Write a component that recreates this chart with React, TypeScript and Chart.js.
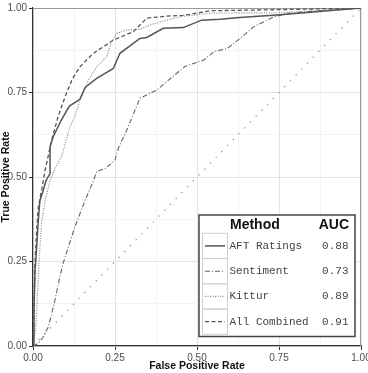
import React, { useEffect, useRef } from "react";
import { Chart, registerables } from "chart.js";

Chart.register(...registerables);

// ROC curves: [FPR, TPR]
const aftRatings: number[][] = [
  [0, 0], [0.003, 0.1], [0.006, 0.22], [0.011, 0.29], [0.016, 0.37], [0.021, 0.43], [0.031, 0.46],
  [0.04, 0.49], [0.052, 0.51], [0.052, 0.59], [0.062, 0.62], [0.087, 0.67], [0.111, 0.71],
  [0.143, 0.73], [0.159, 0.765], [0.194, 0.792], [0.245, 0.821], [0.265, 0.866], [0.326, 0.91],
  [0.347, 0.913], [0.397, 0.94], [0.458, 0.942], [0.514, 0.964], [0.57, 0.967], [0.63, 0.972],
  [0.755, 0.98], [1, 1],
];
const sentiment: number[][] = [
  [0, 0], [0.016, 0.008], [0.03, 0.025], [0.047, 0.057], [0.067, 0.136], [0.082, 0.205],
  [0.092, 0.245], [0.108, 0.294], [0.128, 0.353], [0.159, 0.432], [0.185, 0.49], [0.194, 0.516],
  [0.22, 0.525], [0.25, 0.55], [0.26, 0.585], [0.286, 0.639], [0.326, 0.733], [0.377, 0.757],
  [0.463, 0.827], [0.521, 0.846], [0.552, 0.871], [0.592, 0.88], [0.638, 0.915], [0.674, 0.945],
  [0.735, 0.974], [0.775, 0.984], [0.85, 0.99], [1, 1],
];
const kittur: number[][] = [
  [0, 0], [0.008, 0.05], [0.011, 0.1], [0.016, 0.2], [0.021, 0.29], [0.026, 0.364], [0.037, 0.43],
  [0.052, 0.49], [0.07, 0.53], [0.087, 0.56], [0.113, 0.649], [0.128, 0.68], [0.143, 0.728],
  [0.169, 0.787], [0.194, 0.826], [0.225, 0.856], [0.24, 0.9], [0.255, 0.925], [0.286, 0.935],
  [0.326, 0.937], [0.357, 0.95], [0.408, 0.964], [0.458, 0.976], [0.55, 0.985], [0.755, 0.986],
  [1, 1],
];
const allCombined: number[][] = [
  [0, 0], [0.003, 0.1], [0.006, 0.245], [0.011, 0.34], [0.016, 0.41], [0.026, 0.46], [0.037, 0.52],
  [0.057, 0.61], [0.077, 0.68], [0.098, 0.738], [0.12, 0.79], [0.143, 0.826], [0.184, 0.866],
  [0.245, 0.905], [0.306, 0.93], [0.347, 0.97], [0.408, 0.976], [0.458, 0.978], [0.542, 0.992],
  [0.75, 0.995], [1, 1],
];
const chanceLine: number[][] = [[0, 0], [1, 1]];

const methodNames = ["AFT Ratings", "Sentiment", "Kittur", "All Combined"];
const aucValues = ["0.88", "0.73", "0.89", "0.91"];
const tickValues = [0, 0.25, 0.5, 0.75, 1];

const lineStyles = [
  { color: "#555", width: 1.5, dash: [] as number[] },
  { color: "#666", width: 1.1, dash: [5, 2, 1, 2] },
  { color: "#888", width: 1.2, dash: [1, 1.5] },
  { color: "#555", width: 1.3, dash: [4, 2.5] },
];

const toXY = (arr: number[][]) => arr.map(([x, y]) => ({ x, y }));

const decorPlugin = {
  id: "decor",
  beforeDatasetsDraw(chart: any) {
    const { ctx, chartArea: a } = chart;
    ctx.save();
    ctx.strokeStyle = "#9a9a9a";
    ctx.lineWidth = 1;
    ctx.beginPath();
    ctx.moveTo(a.left, a.top + 0.5);
    ctx.lineTo(a.right - 0.5, a.top + 0.5);
    ctx.lineTo(a.right - 0.5, a.bottom);
    ctx.stroke();
    ctx.restore();
  },
  afterDraw(chart: any) {
    const { ctx, chartArea: a } = chart;
    ctx.save();
    ctx.fillStyle = "#111";
    ctx.font = "bold 10.5px 'Liberation Sans', Arial, sans-serif";
    ctx.textAlign = "center";
    ctx.textBaseline = "middle";
    ctx.fillText("False Positive Rate", (a.left + a.right) / 2, 366);
    ctx.translate(6, (a.top + a.bottom) / 2);
    ctx.rotate(-Math.PI / 2);
    ctx.fillText("True Positive Rate", 0, 0);
    ctx.restore();

    ctx.save();
    const L = 199, T = 215, R = 355, B = 336.5;
    ctx.fillStyle = "#fff";
    ctx.fillRect(L, T, R - L, B - T);
    ctx.strokeStyle = "#444";
    ctx.lineWidth = 1.5;
    ctx.strokeRect(L, T, R - L, B - T);
    ctx.fillStyle = "#111";
    ctx.font = "bold 14px 'Liberation Sans', Arial, sans-serif";
    ctx.textBaseline = "middle";
    ctx.textAlign = "left";
    ctx.fillText("Method", 230, 225.5);
    ctx.textAlign = "right";
    ctx.fillText("AUC", 349, 225.5);
    const rowTop = 233.3, rowH = 25.25;
    methodNames.forEach((name, i) => {
      const y0 = rowTop + i * rowH;
      const cy = y0 + rowH / 2;
      ctx.strokeStyle = "#d0d0d0";
      ctx.lineWidth = 1;
      ctx.setLineDash([]);
      ctx.strokeRect(202.5, y0, 25, rowH);
      const s = lineStyles[i];
      ctx.strokeStyle = s.color;
      ctx.lineWidth = s.width;
      ctx.setLineDash(s.dash);
      ctx.beginPath();
      ctx.moveTo(205, cy);
      ctx.lineTo(225, cy);
      ctx.stroke();
      ctx.setLineDash([]);
      ctx.fillStyle = "#444";
      ctx.font = "11px 'Liberation Mono', 'DejaVu Sans Mono', monospace";
      ctx.textAlign = "left";
      ctx.fillText(name, 229.5, cy);
      ctx.textAlign = "right";
      ctx.fillText(aucValues[i], 348.5, cy);
    });
    ctx.restore();
  },
};

export default function App() {
  const ref = useRef<HTMLCanvasElement>(null);
  useEffect(() => {
    if (!ref.current) return;
    const series = [aftRatings, sentiment, kittur, allCombined];
    const datasets: any[] = series.map((d, i) => ({
      label: methodNames[i],
      data: toXY(d),
      showLine: true,
      borderColor: lineStyles[i].color,
      borderWidth: lineStyles[i].width,
      borderDash: lineStyles[i].dash,
      pointRadius: 0,
      fill: false,
      tension: 0,
    }));
    datasets.push({
      label: "chance",
      data: toXY(chanceLine),
      showLine: true,
      borderColor: "#888",
      borderWidth: 1.2,
      borderDash: [1.2, 7],
      pointRadius: 0,
      fill: false,
    });
    const isMajorVal = (v: number) => Math.abs(v * 4 - Math.round(v * 4)) < 1e-6;
    const gridColor = (c: any) => (isMajorVal(c.tick ? c.tick.value : 0) ? "#e3e3e3" : "#f3f3f3");
    const tickColor = (c: any) => (isMajorVal(c.tick ? c.tick.value : 0) ? "#333" : "rgba(0,0,0,0)");
    const label = (v: any) => {
      const n = Number(v);
      return tickValues.some((t) => Math.abs(t - n) < 1e-6) ? n.toFixed(2) : "";
    };
    const chart = new Chart(ref.current, {
      type: "scatter",
      data: { datasets },
      plugins: [decorPlugin],
      options: {
        animation: false,
        responsive: false,
        layout: { padding: { top: 8, right: 7, left: 0, bottom: 0 } },
        plugins: { legend: { display: false }, tooltip: { enabled: false } },
        scales: {
          x: {
            type: "linear",
            min: 0,
            max: 1,
            afterFit: (s: any) => { s.height = 27; s.paddingLeft = 0; s.paddingRight = 0; },
            ticks: {
              stepSize: 0.125,
              autoSkip: false,
              maxRotation: 0,
              callback: label,
              color: "#4d4d4d",
              padding: 2,
              font: { size: 10, family: "'Liberation Sans', Arial, sans-serif" },
            },
            grid: { color: gridColor, tickColor, tickLength: 4, lineWidth: 1 },
            border: { color: "#333", width: 1.2 },
          },
          y: {
            type: "linear",
            min: 0,
            max: 1,
            afterFit: (s: any) => { s.width = 33; s.paddingTop = 0; s.paddingBottom = 0; },
            ticks: {
              stepSize: 0.125,
              autoSkip: false,
              callback: label,
              color: "#4d4d4d",
              padding: 2,
              font: { size: 10, family: "'Liberation Sans', Arial, sans-serif" },
            },
            grid: { color: gridColor, tickColor, tickLength: 4, lineWidth: 1 },
            border: { color: "#333", width: 1.2 },
          },
        },
      },
    } as any);
    return () => chart.destroy();
  }, []);
  return (
    <div style={{ position: "fixed", left: 0, top: 0, width: 368, height: 373, background: "#fff" }}>
      <canvas ref={ref} width={368} height={373} style={{ display: "block" }} />
    </div>
  );
}
